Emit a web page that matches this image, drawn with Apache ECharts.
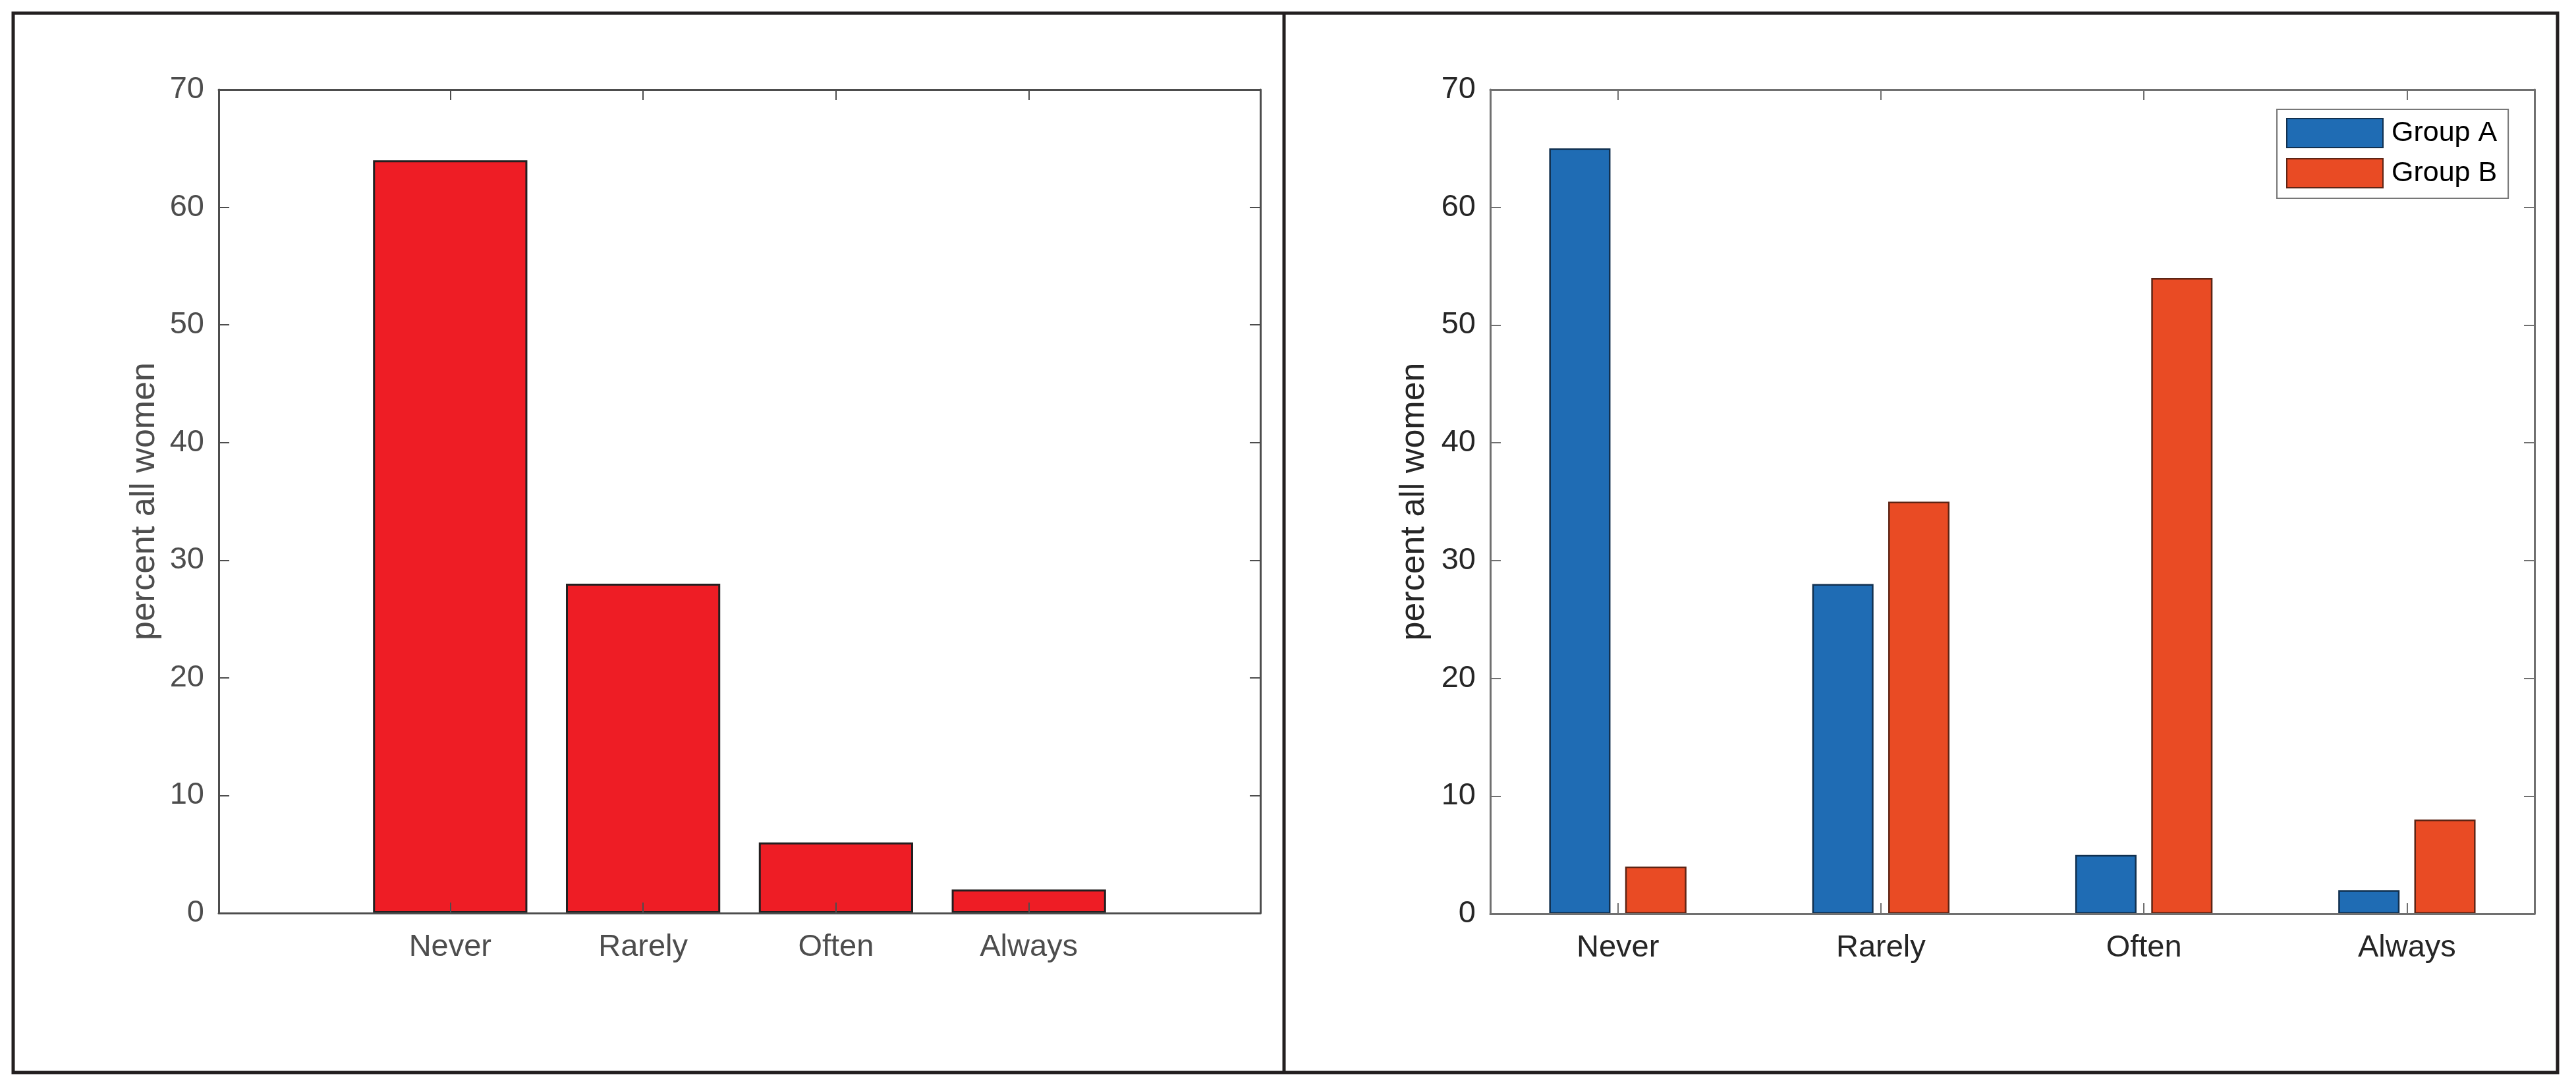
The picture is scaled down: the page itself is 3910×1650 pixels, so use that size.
<!DOCTYPE html>
<html><head><meta charset="utf-8">
<script src="https://cdn.jsdelivr.net/npm/echarts@6/dist/echarts.min.js"></script>
<style>html,body{margin:0;padding:0;background:#fff}#c{width:3910px;height:1650px}</style>
</head><body><div id="c"></div>
<script>
// ---- data ----
const categories = ['Never', 'Rarely', 'Often', 'Always'];
const allWomen = [64, 28, 6, 2];
const groupA = [65, 28, 5, 2];
const groupB = [4, 35, 54, 8];
const seriesNames = ['Group A', 'Group B'];
const yTitle = 'percent all women';
const yMin = 0, yMax = 70, yStep = 10;
const catPos = categories.map((c, i) => i + 1);

// ---- styles ----
const FONT = 'Liberation Sans, Arial, Helvetica, sans-serif';
const P1 = { text: '#4d4d4d', line: '#4d4d4d', lw: 3 };
const P2 = { text: '#262626', line: '#707070', lw: 3 };

function xAxes(gi, min, max, P) {
  const common = {
    type: 'value', gridIndex: gi, min: min, max: max, z: 10,
    splitLine: { show: false },
    axisLine: { show: true, onZero: false, lineStyle: { color: P.line, width: P.lw } },
    axisTick: { show: true, inside: true, length: 16, customValues: catPos, lineStyle: { color: P.line, width: 2 } }
  };
  return [
    Object.assign({}, common, {
      position: 'bottom',
      axisLabel: { show: true, customValues: catPos, margin: 29, fontSize: 47, fontFamily: FONT, color: P.text,
        formatter: v => categories[Math.round(v) - 1] || '' }
    }),
    Object.assign({}, common, { position: 'top', axisLabel: { show: false } })
  ];
}
function yAxes(gi, P, gap) {
  const common = {
    type: 'value', gridIndex: gi, min: yMin, max: yMax, interval: yStep, z: 10,
    splitLine: { show: false },
    axisLine: { show: true, onZero: false, lineStyle: { color: P.line, width: P.lw } },
    axisTick: { show: true, inside: true, length: 16, lineStyle: { color: P.line, width: 2 } }
  };
  return [
    Object.assign({}, common, {
      position: 'left',
      name: yTitle, nameLocation: 'middle', nameRotate: 90, nameGap: gap,
      nameTextStyle: { fontSize: 52, fontFamily: FONT, color: P.text },
      axisLabel: { show: true, margin: 22, fontSize: 47, fontFamily: FONT, color: P.text }
    }),
    Object.assign({}, common, { position: 'right', axisLabel: { show: false } })
  ];
}

const chart = echarts.init(document.getElementById('c'), null, { renderer: 'canvas' });
const option = {
  animation: false,
  backgroundColor: '#fff',
  grid: [
    { left: 332, top: 136, width: 1581, height: 1250 },
    { left: 2262, top: 136, width: 1585, height: 1251 }
  ],
  xAxis: [].concat(xAxes(0, -0.2, 5.2, P1), xAxes(1, 0.515, 4.485, P2)),
  yAxis: [].concat(yAxes(0, P1, 86), yAxes(1, P2, 89)),
  legend: {
    orient: 'vertical', left: 3456, top: 166,
    padding: [13, 17, 15, 14],
    itemWidth: 146, itemHeight: 44, itemGap: 15,
    backgroundColor: '#fff', borderColor: '#777', borderWidth: 2, borderRadius: 0,
    icon: 'rect',
    textStyle: { fontSize: 43, fontFamily: FONT, color: '#000', padding: [0, 0, 0, 8] },
    data: seriesNames
  },
  series: [
    {
      type: 'bar', xAxisIndex: 0, yAxisIndex: 0, barWidth: '80%',
      data: catPos.map((x, i) => [x, allWomen[i]]),
      itemStyle: { color: '#ee1d25', borderColor: '#231f20', borderWidth: 3 }
    },
    {
      name: seriesNames[0], type: 'bar', xAxisIndex: 2, yAxisIndex: 2, barWidth: '23.3%', barGap: '24%',
      data: catPos.map((x, i) => [x, groupA[i]]),
      itemStyle: { color: '#1f6cb4', borderColor: '#11304f', borderWidth: 2.5 }
    },
    {
      name: seriesNames[1], type: 'bar', xAxisIndex: 2, yAxisIndex: 2, barWidth: '23.3%', barGap: '24%',
      data: catPos.map((x, i) => [x, groupB[i]]),
      itemStyle: { color: '#e94b24', borderColor: '#5e2414', borderWidth: 2.5 }
    }
  ],
  graphic: [
    { type: 'rect', z: 100, shape: { x: 20, y: 20, width: 3862, height: 1608 },
      style: { fill: 'none', stroke: '#231f20', lineWidth: 5 } },
    { type: 'line', z: 100, shape: { x1: 1949, y1: 20, x2: 1949, y2: 1628 },
      style: { stroke: '#231f20', lineWidth: 5 } }
  ]
};
chart.setOption(option);
</script>
</body></html>
